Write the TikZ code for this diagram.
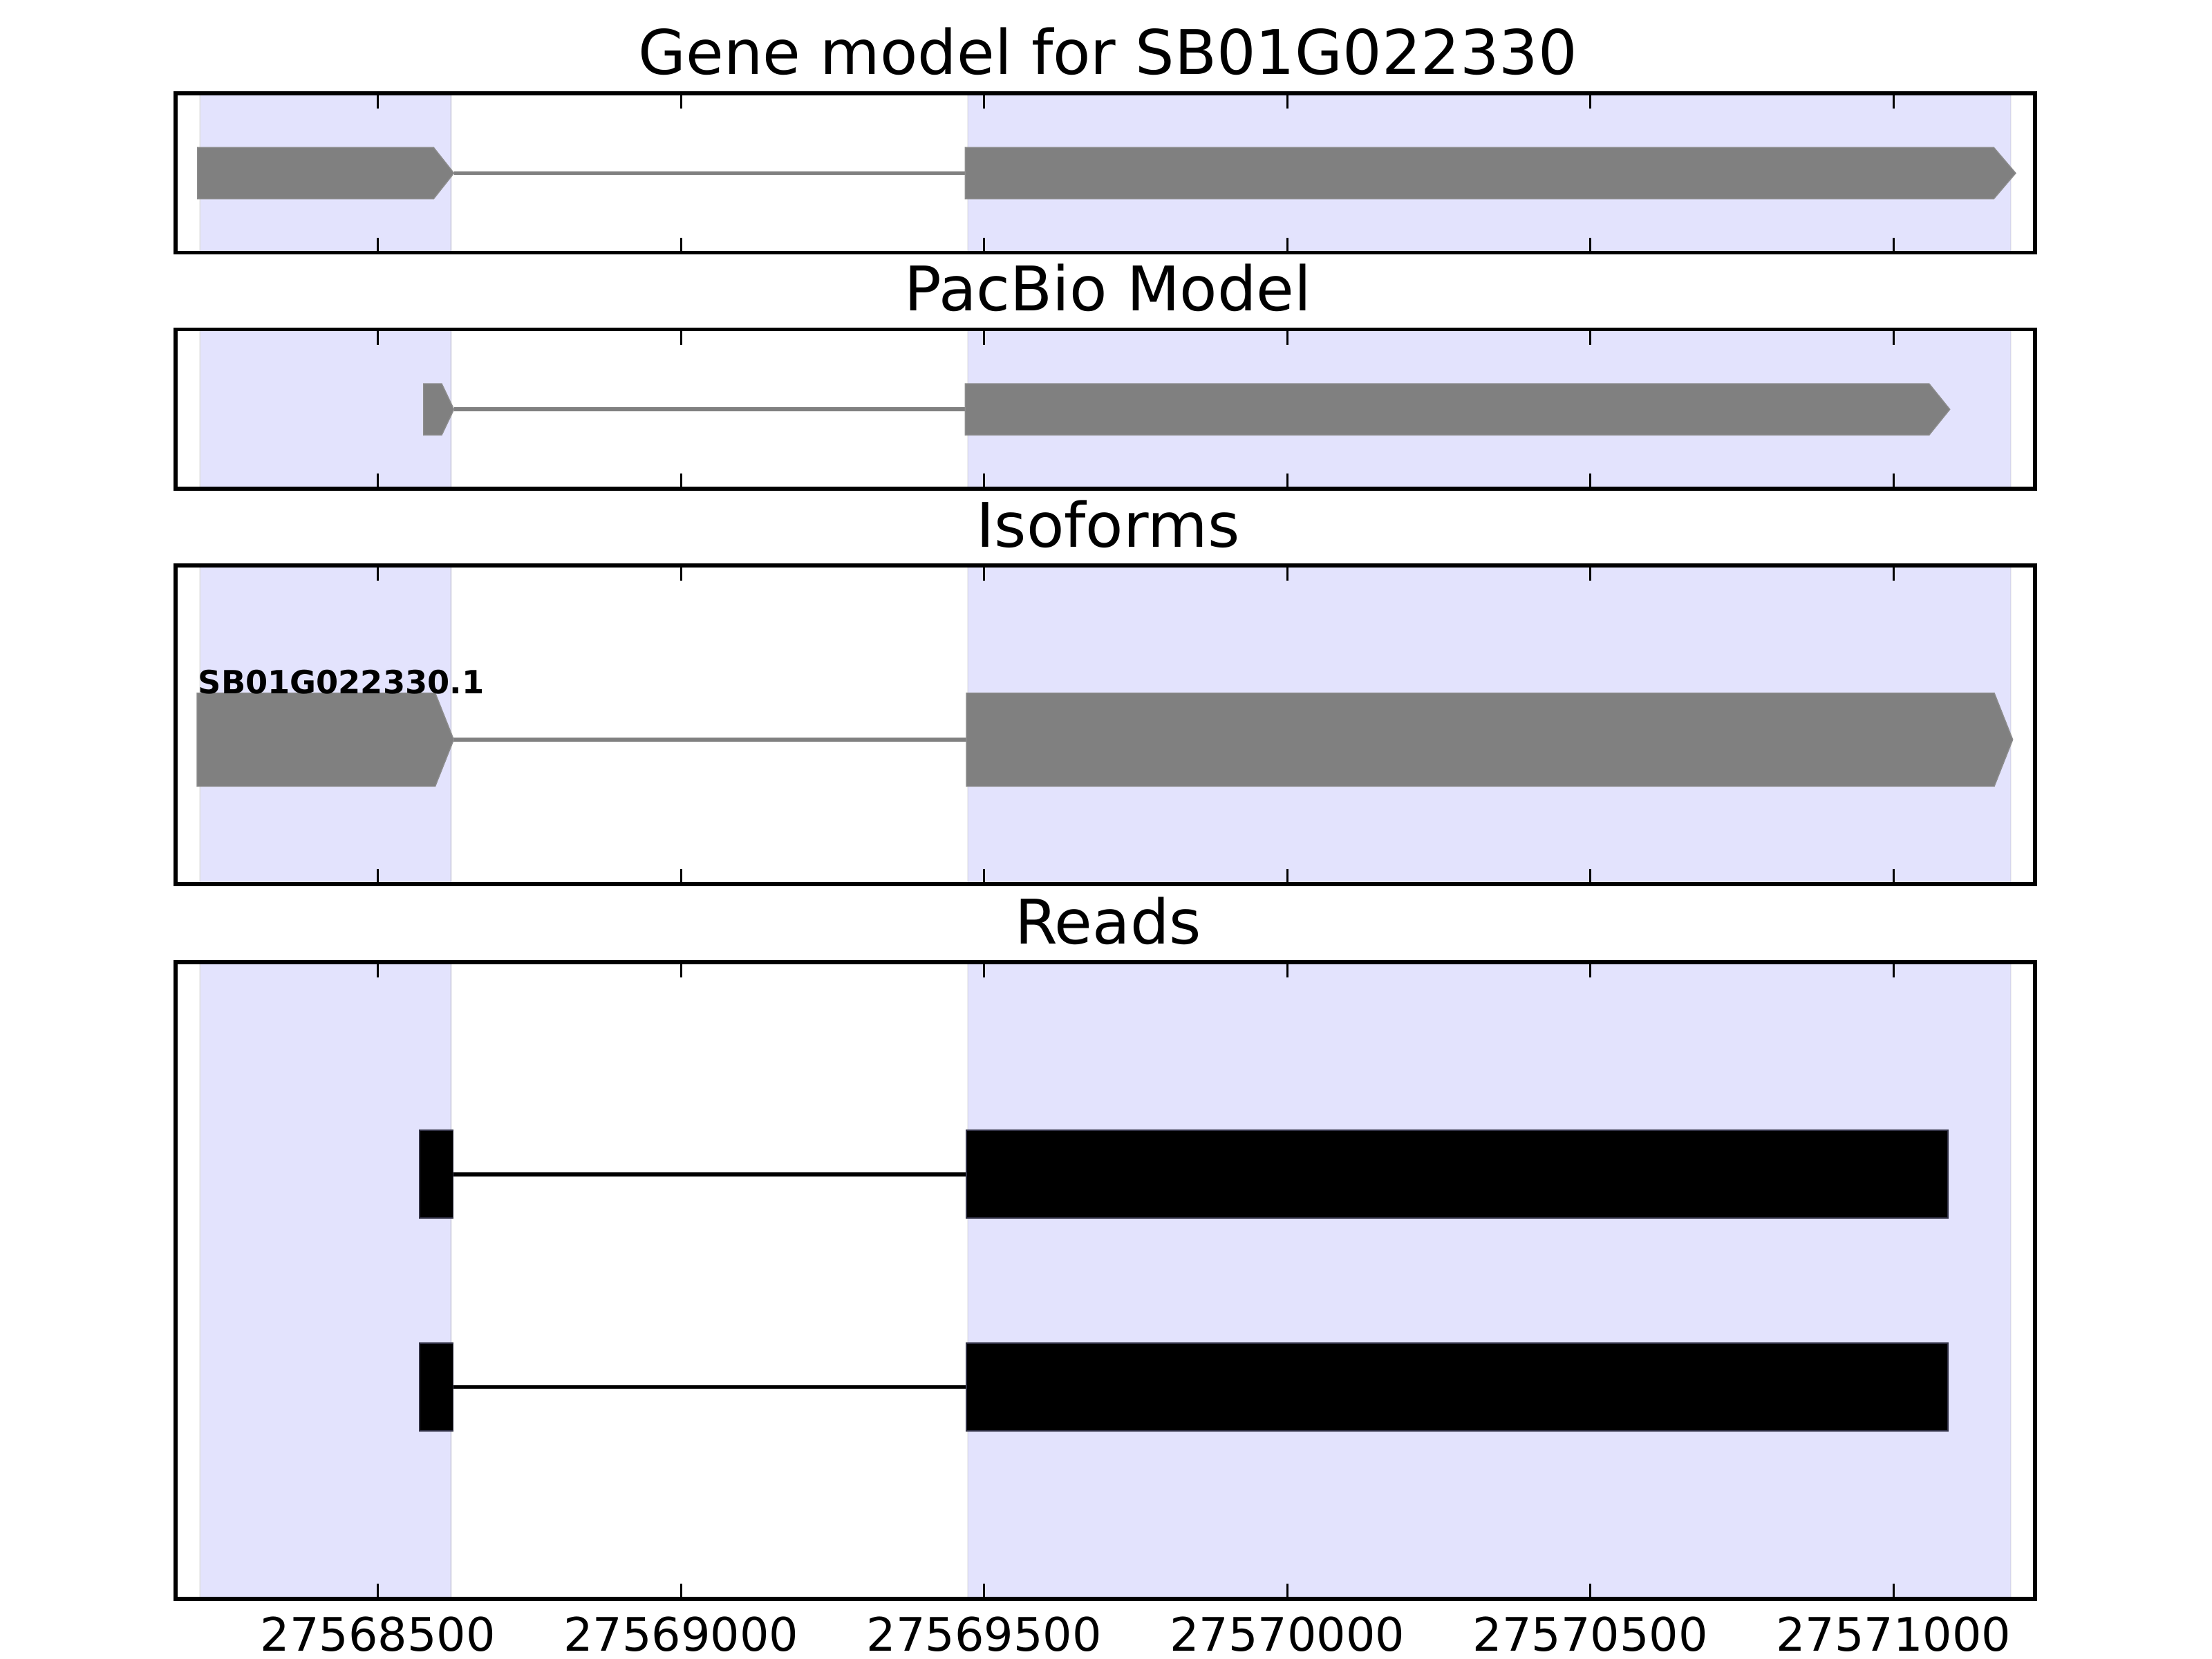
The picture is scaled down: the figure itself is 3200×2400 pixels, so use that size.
\documentclass[tikz,border=0pt]{standalone}
\usepackage{fontspec}
\setmainfont{DejaVu Sans}
\definecolor{spanfill}{RGB}{227,227,253}
\definecolor{exongray}{RGB}{128,128,128}
\definecolor{readedge}{RGB}{50,50,70}
\tikzset{
  spanbox/.style={fill=spanfill, draw=gray, draw opacity=0.12, line width=0.8pt},
  axframe/.style={draw=black, line width=1.58pt},
  axtick/.style={draw=black, line width=0.79pt},
  paneltitle/.style={anchor=base, inner sep=0pt, font=\fontsize{25.3}{30}\selectfont},
  ticklabel/.style={anchor=base, inner sep=0pt, font=\fontsize{19}{23}\selectfont},
  isolabel/.style={anchor=base west, inner sep=0pt, font=\fontsize{13.15}{16}\selectfont\bfseries},
  exon/.style={fill=exongray, draw=exongray!90!white, line width=0.4pt},
  intron/.style={draw=exongray, line width=1.58pt},
  readexon/.style={fill=black, draw=readedge, line width=0.5pt},
  readintron/.style={draw=black, line width=1.58pt}
}
\newcommand\drawpanel[4]{%
  \path[spanbox] (289.5,#1) rectangle (652.5,#2);
  \path[spanbox] (1400,#1) rectangle (2909,#2);
  \foreach \tx in {546.7,985.2,1423.7,1862.3,2300.8,2739.3}{%
    \draw[axtick] (\tx,#1) -- ++(0,22.2);
    \draw[axtick] (\tx,#2) -- ++(0,-22.2);
  }
  \draw[axframe] (254,#1) rectangle (2944,#2);
  \node[paneltitle] (#4) at (1603,{#1-27}) {#3};
}
% arrow exon: left, shoulder, tip, center, halfheight
\newcommand\arrowexon[5]{%
  \path[exon] (#1,{#4-#5}) -- (#2,{#4-#5}) -- (#3,#4) -- (#2,{#4+#5}) -- (#1,{#4+#5}) -- cycle;
}
\begin{document}
\begin{tikzpicture}[x=0.01cm,y=-0.01cm]
\useasboundingbox[fill=white] (0,0) rectangle (3200,2400);

% Panel 1: Gene model
\drawpanel{135}{365.7}{Gene model for SB01G022330}{title1}
\coordinate (g1a) at (656.7,250.5);
\coordinate (g1b) at (1396.3,250.5);
\draw[intron] (g1a) -- (g1b);
\arrowexon{285.7}{627.3}{656.7}{250.5}{37.2}
\arrowexon{1396.3}{2884.3}{2916}{250.5}{37.2}

% Panel 2: PacBio
\drawpanel{476.7}{707}{PacBio Model}{title2}
\coordinate (p1a) at (656.7,592.2);
\coordinate (p1b) at (1396.3,592.2);
\draw[intron] (p1a) -- (p1b);
\arrowexon{612.7}{639}{656.7}{592.2}{37.2}
\arrowexon{1396.3}{2790.7}{2820.7}{592.2}{37.2}

% Panel 3: Isoforms
\drawpanel{818}{1279}{Isoforms}{title3}
\coordinate (i1a) at (656.4,1070);
\coordinate (i1b) at (1398,1070);
\draw[intron] (i1a) -- (i1b);
\arrowexon{285}{629.6}{656.4}{1070}{67.5}
\arrowexon{1398}{2885}{2911.7}{1070}{67.5}
\node[isolabel] (isoname) at (286,1003) {SB01G022330.1};

% Panel 4: Reads
\drawpanel{1392}{2313}{Reads}{title4}
\coordinate (r1a) at (607,1698.8);
\coordinate (r1b) at (1398,1698.8);
\draw[readintron] (r1a) -- (r1b);
\path[readexon] (607,1635.3) rectangle (655.6,1762.3);
\path[readexon] (1398,1635.3) rectangle (2817.7,1762.3);
\coordinate (r2a) at (607,2006.3);
\coordinate (r2b) at (1398,2006.3);
\draw[readintron] (r2a) -- (r2b);
\path[readexon] (607,1942.8) rectangle (655.6,2069.8);
\path[readexon] (1398,1942.8) rectangle (2817.7,2069.8);

% tick labels
\node[ticklabel] (tl1) at (546.7,2388) {27568500};
\node[ticklabel] (tl2) at (985.2,2388) {27569000};
\node[ticklabel] (tl3) at (1423.7,2388) {27569500};
\node[ticklabel] (tl4) at (1862.3,2388) {27570000};
\node[ticklabel] (tl5) at (2300.8,2388) {27570500};
\node[ticklabel] (tl6) at (2739.3,2388) {27571000};
\end{tikzpicture}
\end{document}
